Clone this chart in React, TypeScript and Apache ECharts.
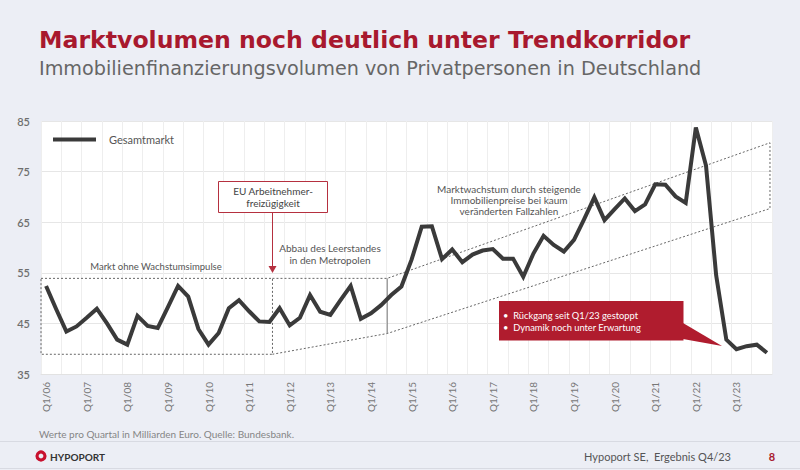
import React, { useEffect, useRef } from 'react';
import * as echarts from 'echarts';

const years = ['06','07','08','09','10','11','12','13','14','15','16','17','18','19','20','21','22','23'];
const quarters = ['Q1','Q2','Q3','Q4'];
const categories: string[] = [];
years.forEach((y) => quarters.forEach((q) => categories.push(`${q}/${y}`)));

const gesamtmarkt = [
  52.4, 47.8, 43.4, 44.4, 46.1, 47.9, 45.0, 41.8,
  40.8, 46.5, 44.5, 44.1, 48.2, 52.4, 50.3, 43.9,
  40.8, 43.1, 48.0, 49.6, 47.4, 45.4, 45.3, 48.0,
  44.6, 46.1, 50.6, 47.3, 46.7, 49.6, 52.4, 45.9,
  47.0, 48.6, 50.6, 52.3, 57.6, 64.1, 64.2, 57.7,
  59.6, 57.1, 58.6, 59.4, 59.7, 57.8, 57.8, 54.2,
  58.8, 62.3, 60.5, 59.2, 61.5, 65.6, 69.9, 65.4,
  67.6, 69.7, 67.2, 68.5, 72.5, 72.4, 70.1, 68.8,
  83.7, 76.2, 54.5, 41.8, 39.9, 40.5, 40.8, 39.2,
];

const yMin = 35;
const yMax = 85;
const yInterval = 10;

// annotation shapes in (quarter index, value) coordinates
const boxFlat = [[-0.5, 53.9], [22.3, 53.9], [22.3, 38.9], [-0.5, 38.9], [-0.5, 53.9]];
const corridor = [[22.3, 53.9], [33.6, 53.9], [71.3, 80.7], [71.3, 67.7], [33.6, 43.0], [22.3, 38.9]];
const divider = [[33.6, 53.9], [33.6, 43.0]];

const RED = '#a8192e';
const FONT = 'Lato, "Open Sans", sans-serif';

export default function App() {
  const ref = useRef<HTMLDivElement>(null);
  useEffect(() => {
    if (!ref.current) return;
    const chart = echarts.init(ref.current, undefined, { renderer: 'svg' });
    const dashed = { color: '#666', width: 1, type: [2, 2] as any };
    chart.setOption({
      animation: false,
      backgroundColor: '#eceef5',
      textStyle: { fontFamily: FONT },
      grid: { left: 41, top: 121, width: 731, height: 253, show: true, backgroundColor: '#ffffff', borderWidth: 0 },
      legend: {
        data: ['Gesamtmarkt'],
        left: 48, top: 129, icon: 'rect', itemWidth: 43, itemHeight: 4, itemGap: 10,
        textStyle: { color: '#555', fontSize: 11, fontFamily: FONT, padding: [0, 0, 0, 8] },
      },
      xAxis: [
        {
          type: 'category', data: categories, boundaryGap: true,
          axisLine: { show: true, lineStyle: { color: '#e2e2e2' } },
          axisTick: { show: false },
          splitLine: { show: true, interval: 1, lineStyle: { color: '#eeeeee', width: 1 } },
          axisLabel: { interval: 3, rotate: 90, color: '#777', fontSize: 10, fontFamily: FONT, margin: 8 },
        },
        { type: 'value', min: -0.5, max: 71.5, show: false },
      ],
      yAxis: {
        type: 'value', min: yMin, max: yMax, interval: yInterval,
        axisLine: { show: false }, axisTick: { show: false },
        splitLine: { lineStyle: { color: '#e6e6e6' } },
        axisLabel: { color: '#6e6e6e', fontSize: 11, fontWeight: 600, fontFamily: FONT, margin: 11 },
      },
      series: [
        {
          name: 'boxFlat', type: 'line', xAxisIndex: 1, data: boxFlat, symbol: 'none', silent: true,
          lineStyle: dashed, z: 1,
        },
        {
          name: 'corridor', type: 'line', xAxisIndex: 1, data: corridor, symbol: 'none', silent: true,
          lineStyle: dashed, z: 1,
        },
        {
          name: 'divider', type: 'line', xAxisIndex: 1, data: divider, symbol: 'none', silent: true,
          lineStyle: { color: '#777', width: 1 }, z: 1,
        },
        {
          name: 'Gesamtmarkt', type: 'line', data: gesamtmarkt, symbol: 'none',
          lineStyle: { color: '#3a3a3a', width: 4, join: 'miter' }, itemStyle: { color: '#3a3a3a' }, z: 5,
        },
      ],
      graphic: [
        { type: 'text', style: { text: 'Marktvolumen noch deutlich unter Trendkorridor', x: 39, y: 40, fill: RED, font: `bold 23.6px "DejaVu Sans", sans-serif`, textVerticalAlign: 'middle' } },
        { type: 'text', style: { text: 'Immobilienfinanzierungsvolumen von Privatpersonen in Deutschland', x: 39, y: 68, fill: '#666', font: `19.2px "DejaVu Sans", sans-serif`, textVerticalAlign: 'middle' } },
        // annotations
        { type: 'text', z: 10, style: { text: 'Markt ohne Wachstumsimpulse', x: 156, y: 266, fill: '#555', font: `9.5px ${FONT}`, textAlign: 'center', textVerticalAlign: 'middle' } },
        { type: 'rect', z: 10, shape: { x: 218.5, y: 181.5, width: 109, height: 31 }, style: { fill: '#fff', stroke: '#b5303f', lineWidth: 1 } },
        { type: 'text', z: 11, style: { text: 'EU Arbeitnehmer-\nfreizügigkeit', x: 273, y: 197, fill: '#444', font: `10px ${FONT}`, textAlign: 'center', textVerticalAlign: 'middle', lineHeight: 12 } },
        { type: 'line', z: 10, shape: { x1: 272.5, y1: 213, x2: 272.5, y2: 267 }, style: { stroke: '#b5303f', lineWidth: 1 } },
        { type: 'polygon', z: 10, shape: { points: [[268.5, 266], [276.5, 266], [272.5, 273]] }, style: { fill: '#b5303f' } },
        { type: 'text', z: 10, style: { text: 'Abbau des Leerstandes\nin den Metropolen', x: 330, y: 254, fill: '#555', font: `10px ${FONT}`, textAlign: 'center', textVerticalAlign: 'middle', lineHeight: 12.5 } },
        { type: 'text', z: 10, style: { text: 'Marktwachstum durch steigende\nImmobilienpreise bei kaum\nveränderten Fallzahlen', x: 509, y: 200, fill: '#555', font: `10px ${FONT}`, textAlign: 'center', textVerticalAlign: 'middle', lineHeight: 11 } },
        { type: 'polygon', z: 10, shape: { points: [[683, 323], [722, 346], [683, 339]] }, style: { fill: '#b01c2e' } },
        { type: 'rect', z: 10, shape: { x: 499, y: 301, width: 184.5, height: 39.5 }, style: { fill: '#b01c2e' } },
        { type: 'text', z: 11, style: { text: '•  Rückgang seit Q1/23 gestoppt\n•  Dynamik noch unter Erwartung', x: 503, y: 321.5, fill: '#ffffff', font: `9.3px ${FONT}`, textVerticalAlign: 'middle', lineHeight: 11.5 } },
        // footer
        { type: 'text', style: { text: 'Werte pro Quartal in Milliarden Euro. Quelle: Bundesbank.', x: 39, y: 434, fill: '#858585', font: `10px ${FONT}`, textVerticalAlign: 'middle' } },
        { type: 'line', shape: { x1: 0, y1: 441.5, x2: 800, y2: 441.5 }, style: { stroke: '#d8dae2', lineWidth: 1 } },
        { type: 'line', shape: { x1: 0, y1: 468.5, x2: 800, y2: 468.5 }, style: { stroke: '#d8dae2', lineWidth: 1 } },
        { type: 'circle', shape: { cx: 41, cy: 456, r: 4 }, style: { fill: 'none', stroke: '#c8102e', lineWidth: 3.2 } },
        { type: 'text', style: { text: 'HYPOPORT', x: 50, y: 456.5, fill: '#333', font: `bold 10px ${FONT}`, textVerticalAlign: 'middle' } },
        { type: 'text', style: { text: 'Hypoport SE,  Ergebnis Q4/23', x: 731, y: 456, fill: '#555', font: `11px ${FONT}`, textAlign: 'right', textVerticalAlign: 'middle' } },
        { type: 'text', style: { text: '8', x: 772, y: 456, fill: RED, font: `bold 11px ${FONT}`, textAlign: 'center', textVerticalAlign: 'middle' } },
      ],
    });
    return () => chart.dispose();
  }, []);
  return <div ref={ref} style={{ position: 'fixed', left: 0, top: 0, width: 800, height: 470 }} />;
}
